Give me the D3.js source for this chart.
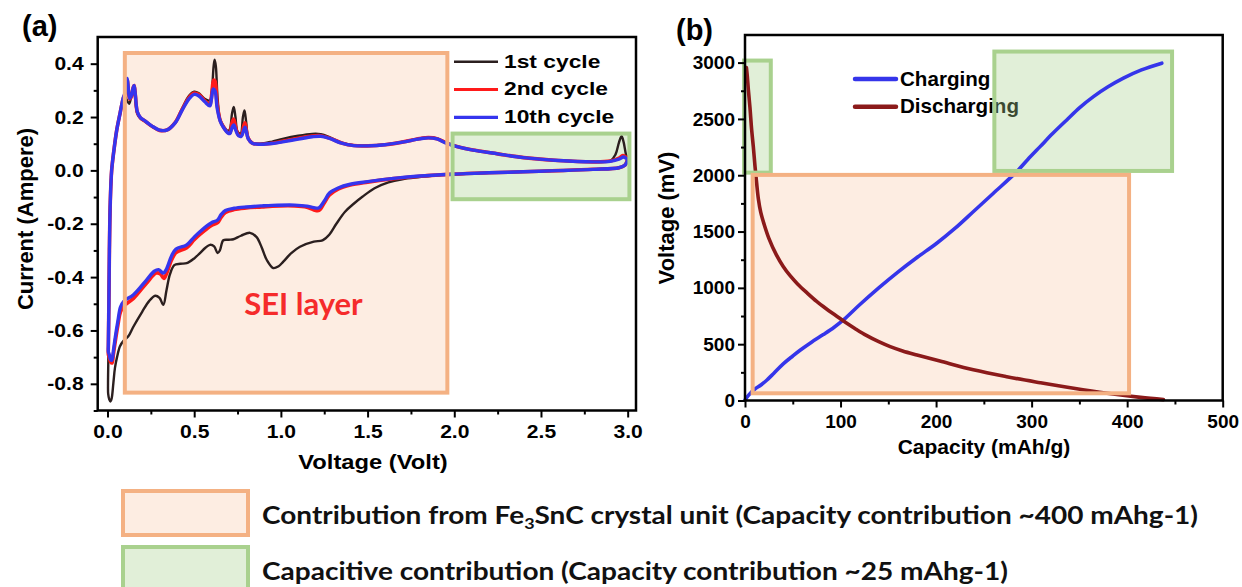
<!DOCTYPE html>
<html>
<head>
<meta charset="utf-8">
<script src="https://cdn.jsdelivr.net/npm/d3@7"></script>
<style>
  html, body { margin: 0; padding: 0; background: #fff; }
  svg { display: block; font-family: "Liberation Sans", Arial, sans-serif; }
</style>
</head>
<body>
<svg id="fig" width="1242" height="587"></svg>
<script>
// ---------------- data: cyclic voltammetry (a) ----------------
const cvTicksX = [0.0, 0.5, 1.0, 1.5, 2.0, 2.5, 3.0];
const cvMinorX = [0.25, 0.75, 1.25, 1.75, 2.25, 2.75];
const cvTicksY = [-0.8, -0.6, -0.4, -0.2, 0.0, 0.2, 0.4];
const cvMinorY = [-0.9, -0.7, -0.5, -0.3, -0.1, 0.1, 0.3];
const cycleNames = ["1st cycle", "2nd cycle", "10th cycle"];
const cycleColors = ["#2b1f1f", "#ff1a1a", "#3535ee"];

// [voltage (V), current (A)] — cathodic sweep 3.0 V -> 0 V
const cycle1Cathodic = [
  [3.00, 0.042], [2.985, 0.020], [2.95, 0.010], [2.80, 0.004], [2.60, -0.001], [2.40, -0.005],
  [2.20, -0.009], [2.00, -0.015], [1.90, -0.018], [1.80, -0.025], [1.70, -0.033], [1.62, -0.045],
  [1.54, -0.067], [1.47, -0.099], [1.42, -0.125], [1.37, -0.155], [1.32, -0.200], [1.28, -0.240],
  [1.24, -0.262], [1.19, -0.267], [1.11, -0.286], [1.06, -0.310], [1.014, -0.342], [0.985, -0.360],
  [0.956, -0.366], [0.918, -0.335], [0.89, -0.290], [0.86, -0.250], [0.822, -0.234], [0.77, -0.245],
  [0.726, -0.258], [0.70, -0.260], [0.668, -0.262], [0.648, -0.300], [0.635, -0.310], [0.615, -0.285],
  [0.591, -0.279], [0.565, -0.290], [0.533, -0.310], [0.50, -0.330], [0.457, -0.348], [0.42, -0.350],
  [0.385, -0.355], [0.36, -0.390], [0.34, -0.450], [0.322, -0.504], [0.30, -0.478], [0.275, -0.470],
  [0.24, -0.490], [0.20, -0.530], [0.15, -0.585], [0.12, -0.622], [0.091, -0.640], [0.072, -0.659],
  [0.055, -0.700], [0.043, -0.740], [0.034, -0.796], [0.024, -0.855], [0.017, -0.866], [0.010, -0.858],
  [0.004, -0.838]
];
// anodic sweep 0 V -> 3.0 V
const cycle1Anodic = [
  [0.003, -0.800], [0.005, -0.700], [0.008, -0.500], [0.011, -0.300], [0.016, -0.120], [0.024, 0.000],
  [0.036, 0.070], [0.053, 0.150], [0.072, 0.210], [0.090, 0.262], [0.100, 0.278], [0.108, 0.268],
  [0.116, 0.258], [0.125, 0.250], [0.135, 0.270], [0.145, 0.300], [0.152, 0.310], [0.160, 0.270],
  [0.172, 0.212], [0.190, 0.195], [0.216, 0.183], [0.255, 0.165], [0.300, 0.150], [0.345, 0.153],
  [0.390, 0.180], [0.430, 0.232], [0.470, 0.280], [0.500, 0.295], [0.525, 0.290], [0.560, 0.268],
  [0.590, 0.262], [0.602, 0.300], [0.612, 0.390], [0.618, 0.415], [0.625, 0.390], [0.635, 0.270],
  [0.650, 0.190], [0.670, 0.165], [0.695, 0.148], [0.706, 0.155], [0.718, 0.212], [0.728, 0.238],
  [0.738, 0.200], [0.750, 0.145], [0.768, 0.138], [0.781, 0.200], [0.790, 0.225], [0.800, 0.180],
  [0.812, 0.122], [0.835, 0.103], [0.880, 0.100], [0.950, 0.108], [1.010, 0.118], [1.100, 0.130],
  [1.180, 0.137], [1.230, 0.136], [1.280, 0.125], [1.350, 0.104], [1.420, 0.094], [1.500, 0.093],
  [1.600, 0.097], [1.700, 0.107], [1.800, 0.120], [1.850, 0.124], [1.900, 0.120], [1.950, 0.105],
  [2.000, 0.093], [2.100, 0.077], [2.250, 0.062], [2.400, 0.048], [2.600, 0.037], [2.800, 0.032],
  [2.900, 0.036], [2.930, 0.060], [2.950, 0.105], [2.965, 0.128], [2.977, 0.105], [2.990, 0.060],
  [3.000, 0.042]
];
const cycle2Cathodic = [
  [3.00, 0.045], [2.985, 0.020], [2.95, 0.010], [2.80, 0.004], [2.60, -0.001], [2.40, -0.005],
  [2.20, -0.009], [2.00, -0.014], [1.80, -0.022], [1.65, -0.031], [1.50, -0.044], [1.40, -0.055],
  [1.33, -0.070], [1.28, -0.092], [1.25, -0.122], [1.22, -0.150], [1.19, -0.148], [1.15, -0.138],
  [1.08, -0.133], [0.95, -0.134], [0.89, -0.137], [0.80, -0.141], [0.73, -0.147], [0.68, -0.158],
  [0.655, -0.176], [0.635, -0.196], [0.60, -0.206], [0.575, -0.218], [0.533, -0.240], [0.50, -0.260],
  [0.457, -0.290], [0.395, -0.308], [0.37, -0.335], [0.34, -0.388], [0.325, -0.405], [0.305, -0.388],
  [0.28, -0.385], [0.226, -0.422], [0.15, -0.480], [0.095, -0.508], [0.075, -0.530], [0.060, -0.580],
  [0.045, -0.640], [0.034, -0.690], [0.026, -0.722], [0.018, -0.718], [0.010, -0.700], [0.005, -0.690]
];
const cycle2Anodic = [
  [0.005, -0.660], [0.008, -0.500], [0.011, -0.300], [0.016, -0.120], [0.024, 0.000], [0.036, 0.070],
  [0.053, 0.150], [0.072, 0.212], [0.090, 0.268], [0.100, 0.285], [0.108, 0.320], [0.114, 0.338],
  [0.121, 0.295], [0.128, 0.268], [0.138, 0.278], [0.148, 0.310], [0.154, 0.318], [0.161, 0.280],
  [0.172, 0.218], [0.190, 0.197], [0.216, 0.185], [0.255, 0.166], [0.300, 0.150], [0.345, 0.152],
  [0.390, 0.179], [0.430, 0.228], [0.470, 0.273], [0.500, 0.290], [0.525, 0.285], [0.560, 0.262],
  [0.590, 0.248], [0.601, 0.285], [0.612, 0.338], [0.620, 0.335], [0.632, 0.250], [0.650, 0.187],
  [0.670, 0.162], [0.695, 0.142], [0.706, 0.142], [0.718, 0.178], [0.728, 0.192], [0.740, 0.160],
  [0.755, 0.133], [0.772, 0.132], [0.785, 0.165], [0.793, 0.178], [0.801, 0.150], [0.812, 0.120],
  [0.835, 0.102], [0.880, 0.098], [0.950, 0.102], [1.010, 0.109], [1.100, 0.120], [1.180, 0.129],
  [1.230, 0.130], [1.280, 0.121], [1.350, 0.103], [1.420, 0.093], [1.500, 0.092], [1.600, 0.096],
  [1.700, 0.106], [1.800, 0.119], [1.850, 0.123], [1.900, 0.119], [1.950, 0.104], [2.000, 0.092],
  [2.100, 0.077], [2.250, 0.062], [2.400, 0.048], [2.600, 0.037], [2.800, 0.032], [2.900, 0.035],
  [2.950, 0.046], [2.972, 0.056], [2.990, 0.050], [3.000, 0.045]
];
const cycle10Cathodic = [
  [3.00, 0.040], [2.985, 0.020], [2.95, 0.010], [2.80, 0.004], [2.60, -0.001], [2.40, -0.005],
  [2.20, -0.009], [2.00, -0.014], [1.80, -0.021], [1.65, -0.030], [1.50, -0.042], [1.40, -0.052],
  [1.33, -0.066], [1.28, -0.085], [1.25, -0.115], [1.22, -0.140], [1.19, -0.140], [1.15, -0.134],
  [1.08, -0.130], [0.95, -0.131], [0.89, -0.133], [0.80, -0.137], [0.73, -0.142], [0.68, -0.150],
  [0.655, -0.166], [0.635, -0.186], [0.60, -0.196], [0.575, -0.207], [0.533, -0.230], [0.50, -0.250],
  [0.457, -0.279], [0.395, -0.295], [0.37, -0.320], [0.34, -0.370], [0.322, -0.385], [0.295, -0.372],
  [0.27, -0.378], [0.226, -0.410], [0.15, -0.466], [0.095, -0.490], [0.075, -0.512], [0.060, -0.565],
  [0.045, -0.625], [0.034, -0.675], [0.025, -0.712], [0.017, -0.708], [0.010, -0.690], [0.005, -0.680]
];
const cycle10Anodic = [
  [0.005, -0.650], [0.008, -0.500], [0.011, -0.300], [0.016, -0.120], [0.024, 0.000], [0.036, 0.070],
  [0.053, 0.150], [0.072, 0.213], [0.090, 0.270], [0.100, 0.290], [0.108, 0.330], [0.114, 0.345],
  [0.121, 0.300], [0.128, 0.270], [0.138, 0.280], [0.148, 0.310], [0.154, 0.318], [0.161, 0.280],
  [0.172, 0.220], [0.190, 0.198], [0.216, 0.186], [0.255, 0.167], [0.300, 0.151], [0.345, 0.152],
  [0.390, 0.178], [0.430, 0.225], [0.470, 0.268], [0.500, 0.285], [0.525, 0.280], [0.560, 0.258],
  [0.590, 0.242], [0.600, 0.270], [0.610, 0.305], [0.620, 0.298], [0.632, 0.235], [0.650, 0.185],
  [0.670, 0.160], [0.695, 0.140], [0.706, 0.138], [0.718, 0.160], [0.728, 0.170], [0.740, 0.150],
  [0.755, 0.130], [0.772, 0.128], [0.785, 0.150], [0.793, 0.162], [0.801, 0.145], [0.812, 0.118],
  [0.835, 0.102], [0.880, 0.098], [0.950, 0.101], [1.010, 0.107], [1.100, 0.117], [1.180, 0.126],
  [1.230, 0.128], [1.280, 0.120], [1.350, 0.102], [1.420, 0.093], [1.500, 0.092], [1.600, 0.096],
  [1.700, 0.106], [1.800, 0.118], [1.850, 0.122], [1.900, 0.118], [1.950, 0.103], [2.000, 0.092],
  [2.100, 0.077], [2.250, 0.062], [2.400, 0.048], [2.600, 0.037], [2.800, 0.032], [2.900, 0.034],
  [2.950, 0.042], [2.975, 0.050], [2.990, 0.046], [3.000, 0.040]
];
const cvCycles = [
  cycle1Cathodic.concat(cycle1Anodic),
  cycle2Cathodic.concat(cycle2Anodic),
  cycle10Cathodic.concat(cycle10Anodic)
];

// ---------------- data: galvanostatic profile (b) ----------------
const gcdTicksX = [0, 100, 200, 300, 400, 500];
const gcdMinorX = [50, 150, 250, 350, 450];
const gcdTicksY = [0, 500, 1000, 1500, 2000, 2500, 3000];
const gcdMinorY = [250, 750, 1250, 1750, 2250, 2750];
const gcdNames = ["Charging", "Discharging"];
const gcdColors = ["#3535ea", "#8b1a1a"];
// [capacity (mAh/g), voltage (mV)]
const chargingCurve = [
  [0, 4], [4, 50], [10, 100], [17, 140], [23, 182], [30, 240], [40, 325], [50, 395], [58, 448],
  [70, 520], [82, 585], [93, 648], [103, 715], [120, 850], [140, 1000], [160, 1140], [180, 1270],
  [200, 1392], [220, 1530], [240, 1685], [260, 1840], [284.5, 2032], [296, 2140], [308.9, 2254],
  [322, 2370], [336.8, 2491], [350, 2598], [364.7, 2698], [380, 2785], [396.1, 2862], [415, 2935],
  [436.3, 2995]
];
const dischargingCurve = [
  [1.5, 2955], [2.4, 2880], [3.5, 2760], [5.2, 2600], [7, 2400], [8.7, 2254], [10.5, 2076],
  [12.2, 1929], [14, 1790], [16.5, 1670], [20, 1565], [25, 1440], [33, 1290], [40, 1190],
  [47, 1110], [55, 1035], [65, 955], [75, 880], [85, 815], [95, 755], [105, 695], [115, 640],
  [127, 578], [140, 522], [152, 478], [165, 440], [180, 404], [204, 350], [239, 272], [274, 211],
  [309, 158], [344, 108], [379, 64], [414, 28], [438, 8]
];
const gcdCurves = [chargingCurve, dischargingCurve];

// ---------------- shaded contribution regions ----------------
const regionStyles = {
  crystal:    { fill: "#f8cbad", stroke: "#f4b183" },
  capacitive: { fill: "#a9d18e", stroke: "#a9d18e" }
};
const cvRegions = [
  { kind: "crystal",    x0: 0.10, x1: 1.96, y0: -0.833, y1: 0.440 },
  { kind: "capacitive", x0: 1.99, x1: 3.01, y0: -0.108, y1: 0.138 }
];
const gcdRegions = [
  { kind: "capacitive", x0: -1,  x1: 27,  y0: 2023, y1: 3018 },
  { kind: "capacitive", x0: 261, x1: 447, y0: 2038, y1: 3098 },
  { kind: "crystal",    x0: 8,   x1: 402, y0: 64,   y1: 2003 }
];
const regionLegend = [
  { kind: "crystal", parts: ["Contribution from Fe", "3", "SnC crystal unit (Capacity contribution ~400 mAhg-1)"] },
  { kind: "capacitive", parts: ["Capacitive contribution (Capacity contribution ~25 mAhg-1)"] }
];

// ---------------- drawing ----------------
const svg = d3.select("#fig");
const BOLD = "bold";

// stretch text glyphs horizontally by factor k
function widen(sel, k) {
  sel.each(function () {
    const w = this.getComputedTextLength();
    this.setAttribute("textLength", (w * k).toFixed(1));
    this.setAttribute("lengthAdjust", "spacingAndGlyphs");
  });
}

function drawRegionFills(g, regions, x, y) {
  g.selectAll(null).data(regions).join("rect")
    .attr("x", d => x(d.x0)).attr("y", d => y(d.y1))
    .attr("width", d => x(d.x1) - x(d.x0)).attr("height", d => y(d.y0) - y(d.y1))
    .attr("fill", d => regionStyles[d.kind].fill).attr("fill-opacity", 0.35);
}
function drawRegionBorders(g, regions, x, y) {
  g.selectAll(null).data(regions).join("rect")
    .attr("x", d => x(d.x0)).attr("y", d => y(d.y1))
    .attr("width", d => x(d.x1) - x(d.x0)).attr("height", d => y(d.y0) - y(d.y1))
    .attr("fill", "none").attr("stroke", d => regionStyles[d.kind].stroke).attr("stroke-width", 4);
}

function styleAxis(g, fontSize) {
  g.select(".domain").remove();
  g.selectAll(".tick line").attr("stroke", "#000").attr("stroke-width", 2);
  g.selectAll(".tick text").attr("fill", "#000").attr("font-size", fontSize)
    .attr("font-weight", BOLD).attr("font-family", '"Liberation Sans", Arial, sans-serif');
}

function frame(g, x0, x1, y0, y1) {
  g.append("rect").attr("x", x0).attr("y", y0).attr("width", x1 - x0).attr("height", y1 - y0)
    .attr("fill", "none").attr("stroke", "#000").attr("stroke-width", 2.5);
}

// ===== panel (a): CV =====
{
  const L = 97.7, R = 636, T = 37, B = 410.5;
  const x = d3.scaleLinear().domain([-0.0565, 3.048]).range([L, R]);
  const y = d3.scaleLinear().domain([-0.9, 0.5]).range([B, T]);
  const g = svg.append("g");

  drawRegionFills(g, cvRegions, x, y);

  const line = d3.line().x(d => x(d[0])).y(d => y(d[1])).curve(d3.curveCatmullRom.alpha(0.5));
  const widths = [2.4, 3.6, 3.4];
  g.selectAll(null).data(cvCycles).join("path")
    .attr("d", line).attr("fill", "none")
    .attr("stroke", (d, i) => cycleColors[i]).attr("stroke-width", (d, i) => widths[i])
    .attr("stroke-linejoin", "round");

  drawRegionBorders(g, cvRegions, x, y);

  const ax = g.append("g").attr("transform", `translate(0,${B})`)
    .call(d3.axisBottom(x).tickValues(cvTicksX).tickSize(7).tickPadding(7).tickFormat(d => d.toFixed(1)));
  styleAxis(ax, 19);
  widen(ax.selectAll(".tick text"), 1.11);
  const axm = g.append("g").attr("transform", `translate(0,${B})`)
    .call(d3.axisBottom(x).tickValues(cvMinorX).tickSize(4).tickFormat(""));
  styleAxis(axm, 19);

  const ay = g.append("g").attr("transform", `translate(${L},0)`)
    .call(d3.axisLeft(y).tickValues(cvTicksY).tickSize(7).tickPadding(7).tickFormat(d => d.toFixed(1)));
  styleAxis(ay, 19);
  widen(ay.selectAll(".tick text"), 1.11);
  const aym = g.append("g").attr("transform", `translate(${L},0)`)
    .call(d3.axisLeft(y).tickValues(cvMinorY).tickSize(4).tickFormat(""));
  styleAxis(aym, 19);

  frame(g, L, R, T, B);

  const xt = g.append("text").attr("x", 373).attr("y", 469).attr("text-anchor", "middle")
    .attr("font-size", 21).attr("font-weight", BOLD).text("Voltage (Volt)");
  widen(xt, 1.13);
  g.append("text").attr("transform", "translate(33,219) rotate(-90)").attr("text-anchor", "middle")
    .attr("font-size", 22).attr("font-weight", BOLD).text("Current (Ampere)");

  // legend
  const leg = g.append("g");
  cycleNames.forEach((name, i) => {
    const ly = 61.7 + i * 27.8;
    leg.append("line").attr("x1", 454).attr("x2", 498).attr("y1", ly).attr("y2", ly)
      .attr("stroke", cycleColors[i]).attr("stroke-width", i === 0 ? 2.6 : 3.2);
    const t = leg.append("text").attr("x", 504).attr("y", ly + 5.8)
      .attr("font-size", 19).attr("font-weight", BOLD).text(name);
    widen(t, 1.2);
  });

  g.append("text").attr("x", x(1.13)).attr("y", y(-0.541)).attr("text-anchor", "middle")
    .attr("font-family", "Lato, sans-serif").attr("font-weight", 700).attr("font-size", 31)
    .attr("fill", "#f52b2b").text("SEI layer");

  g.append("text").attr("x", 22).attr("y", 36).attr("font-size", 29).attr("font-weight", BOLD).text("(a)");
}

// ===== panel (b): charge / discharge =====
{
  const L = 745, R = 1222.7, T = 35, B = 400.5;
  const x = d3.scaleLinear().domain([0, 500]).range([L, R]);
  const y = d3.scaleLinear().domain([0, 3245]).range([B, T]);
  const g = svg.append("g");

  // legend (under the shaded regions)
  const leg = g.append("g");
  gcdNames.forEach((name, i) => {
    const ly = 79 + i * 27.7;
    leg.append("line").attr("x1", 855).attr("x2", 896).attr("y1", ly).attr("y2", ly)
      .attr("stroke", gcdColors[i]).attr("stroke-width", 4.5).attr("stroke-linecap", "round");
    leg.append("text").attr("x", 900).attr("y", ly + 6.5)
      .attr("font-size", 20.6).attr("font-weight", BOLD).text(name);
  });

  drawRegionFills(g, gcdRegions, x, y);

  const line = d3.line().x(d => x(d[0])).y(d => y(d[1])).curve(d3.curveCatmullRom.alpha(0.5));
  g.selectAll(null).data(gcdCurves).join("path")
    .attr("d", line).attr("fill", "none")
    .attr("stroke", (d, i) => gcdColors[i]).attr("stroke-width", 3.6)
    .attr("stroke-linecap", "round");

  drawRegionBorders(g, gcdRegions, x, y);

  const ax = g.append("g").attr("transform", `translate(0,${B})`)
    .call(d3.axisBottom(x).tickValues(gcdTicksX).tickSize(7).tickPadding(7).tickFormat(d3.format("d")));
  styleAxis(ax, 19);
  const axm = g.append("g").attr("transform", `translate(0,${B})`)
    .call(d3.axisBottom(x).tickValues(gcdMinorX).tickSize(4).tickFormat(""));
  styleAxis(axm, 19);
  const ay = g.append("g").attr("transform", `translate(${L},0)`)
    .call(d3.axisLeft(y).tickValues(gcdTicksY).tickSize(7).tickPadding(3).tickFormat(d3.format("d")));
  styleAxis(ay, 19);
  const aym = g.append("g").attr("transform", `translate(${L},0)`)
    .call(d3.axisLeft(y).tickValues(gcdMinorY).tickSize(4).tickFormat(""));
  styleAxis(aym, 19);

  frame(g, L, R, T, B);

  g.append("text").attr("x", 984).attr("y", 454).attr("text-anchor", "middle")
    .attr("font-size", 21).attr("font-weight", BOLD).text("Capacity (mAh/g)");
  g.append("text").attr("transform", "translate(674,218) rotate(-90)").attr("text-anchor", "middle")
    .attr("font-size", 22).attr("font-weight", BOLD).text("Voltage (mV)");

  g.append("text").attr("x", 676).attr("y", 40).attr("font-size", 29).attr("font-weight", BOLD).text("(b)");
}

// ===== shared key for the shaded regions =====
{
  const g = svg.append("g");
  const rows = [{ y: 491, h: 44, tw: 936, ty: 524 }, { y: 547, h: 46, tw: 746, ty: 580 }];
  regionLegend.forEach((item, i) => {
    const r = rows[i], st = regionStyles[item.kind];
    g.append("rect").attr("x", 123).attr("y", r.y).attr("width", 125).attr("height", r.h)
      .attr("fill", st.fill).attr("fill-opacity", 0.35)
      .attr("stroke", st.stroke).attr("stroke-width", 4);
    const t = g.append("text").attr("x", 262).attr("y", r.ty)
      .attr("font-family", "Lato, sans-serif").attr("font-weight", 700).attr("font-size", 25)
      .attr("fill", "#111");
    item.parts.forEach((p, j) => {
      const ts = t.append("tspan").text(p);
      if (item.parts.length === 3 && j === 1) ts.attr("font-size", 16).attr("dy", 5);
      if (item.parts.length === 3 && j === 2) ts.attr("dy", -5);
    });
    t.attr("textLength", r.tw).attr("lengthAdjust", "spacingAndGlyphs");
  });
}
</script>
</body>
</html>
